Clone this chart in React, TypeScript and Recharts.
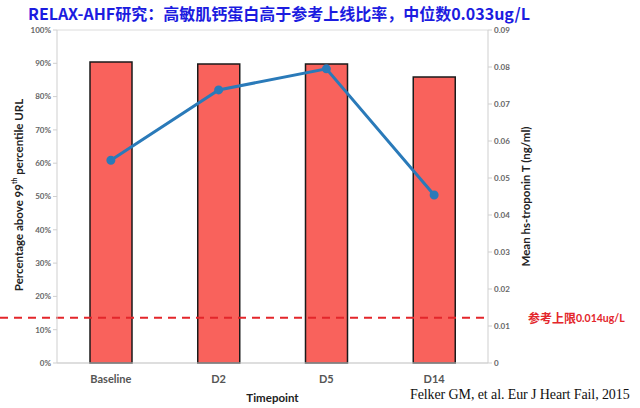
import React from 'react';
import { ComposedChart, Bar, Line, XAxis, YAxis, CartesianGrid, ReferenceLine, Label } from 'recharts';

const timepoints = ['Baseline', 'D2', 'D5', 'D14'];
const pctAboveUrl = [90.4, 89.8, 89.8, 85.9];
const meanTroponin = [0.0548, 0.0738, 0.0795, 0.0454];
const pctTicks = [0, 10, 20, 30, 40, 50, 60, 70, 80, 90, 100];
const tropTicks = [0, 0.01, 0.02, 0.03, 0.04, 0.05, 0.06, 0.07, 0.08, 0.09];
const refLimit = 0.0122;

const data = timepoints.map((t, i) => ({ t, pct: pctAboveUrl[i], trop: meanTroponin[i] }));

const FONT = 'Lato, "Open Sans", sans-serif';
const tickStyle = { fontSize: 8, fontWeight: 700, fill: '#666', fontFamily: FONT };

const LeftLabel = (props: any) => {
  const cy = 195;
  const cx = 18;
  return (
    <text
      x={cx}
      y={cy}
      transform={`rotate(-90, ${cx}, ${cy})`}
      textAnchor="middle"
      dominantBaseline="central"
      style={{ fontSize: 11.5, fontWeight: 700, fill: '#222', fontFamily: FONT }}
    >
      Percentage above 99<tspan dy={-4} fontSize={7}>th</tspan>
      <tspan dy={4}> percentile URL</tspan>
    </text>
  );
};

const RefShape = (props: any) => {
  const { y1, x1, x2 } = props;
  const right = Math.max(x1, x2);
  return (
    <g>
      <line x1={0} y1={y1} x2={right + 2} y2={y1} stroke="#e3262b" strokeWidth={2} strokeDasharray="8 6" />
      <text
        x={right + 40}
        y={y1}
        dominantBaseline="central"
        style={{ fontSize: 12, fontWeight: 700, fill: '#e3262b', fontFamily: '"Noto Sans CJK SC", sans-serif' }}
      >
        参考上限<tspan style={{ fontSize: 10.5, fontFamily: FONT }}>0.014ug/L</tspan>
      </text>
    </g>
  );
};

export default function App() {
  return (
    <div style={{ position: 'absolute', left: 0, top: 0, width: 640, height: 408, background: '#fff', overflow: 'hidden' }}>
      <ComposedChart width={640} height={408} data={data} margin={{ top: 30, right: 0, bottom: 0, left: 0 }}>
        <CartesianGrid vertical={false} stroke="#dcdcdc" />
        <XAxis
          dataKey="t"
          height={45}
          tickLine={false}
          axisLine={{ stroke: '#cfcfcf' }}
          tick={{ fontSize: 11, fontWeight: 700, fill: '#555', fontFamily: FONT }}
          tickMargin={6}
        >
          <Label
            value="Timepoint"
            position="insideBottom"
            offset={6}
            style={{ fontSize: 11.5, fontWeight: 700, fill: '#222', fontFamily: FONT }}
          />
        </XAxis>
        <YAxis
          yAxisId="left"
          width={57}
          domain={[0, 100]}
          ticks={pctTicks}
          interval={0}
          tickFormatter={(v: number) => `${v}%`}
          tick={tickStyle}
          tickSize={4}
          tickMargin={2}
          axisLine={{ stroke: '#cfcfcf' }}
          tickLine={{ stroke: '#cfcfcf' }}
          label={<LeftLabel />}
        />
        <YAxis
          yAxisId="right"
          orientation="right"
          width={152}
          domain={[0, 0.09]}
          ticks={tropTicks}
          interval={0}
          tickFormatter={(v: number) => (v === 0 ? '0' : v.toFixed(2))}
          tick={tickStyle}
          tickSize={4}
          tickMargin={2}
          axisLine={{ stroke: '#cfcfcf' }}
          tickLine={{ stroke: '#cfcfcf' }}
        >
          <Label
            value="Mean hs-troponin T (ng/ml)"
            angle={-90}
            position="insideLeft"
            offset={38}
            style={{ fontSize: 11.5, fontWeight: 700, fill: '#222', fontFamily: FONT, textAnchor: 'middle' }}
          />
        </YAxis>
        <Bar
          yAxisId="left"
          dataKey="pct"
          barSize={42}
          fill="#f9625c"
          stroke="#1a1a1a"
          strokeWidth={1.5}
          isAnimationActive={false}
        />
        <Line
          yAxisId="right"
          dataKey="trop"
          type="linear"
          stroke="#2a7ab9"
          strokeWidth={3}
          dot={{ r: 3, fill: '#2a7ab9', stroke: '#2a7ab9' }}
          isAnimationActive={false}
        />
        <ReferenceLine yAxisId="right" y={refLimit} shape={<RefShape />} />
      </ComposedChart>
      <div
        style={{
          position: 'absolute',
          left: 28,
          top: 3,
          fontSize: 16,
          fontWeight: 700,
          color: '#1c1ce0',
          fontFamily: '"Noto Sans CJK SC", sans-serif',
          whiteSpace: 'nowrap',
          lineHeight: '20px',
        }}
      >
        RELAX-AHF研究：高敏肌钙蛋白高于参考上线比率，中位数0.033ug/L
      </div>
      <div
        style={{
          position: 'absolute',
          left: 410,
          top: 387,
          fontSize: 14,
          fontFamily: '"Liberation Serif", serif',
          color: '#111',
          whiteSpace: 'nowrap',
          letterSpacing: -0.1,
        }}
      >
        Felker GM, et al. Eur J Heart Fail, 2015
      </div>
    </div>
  );
}
